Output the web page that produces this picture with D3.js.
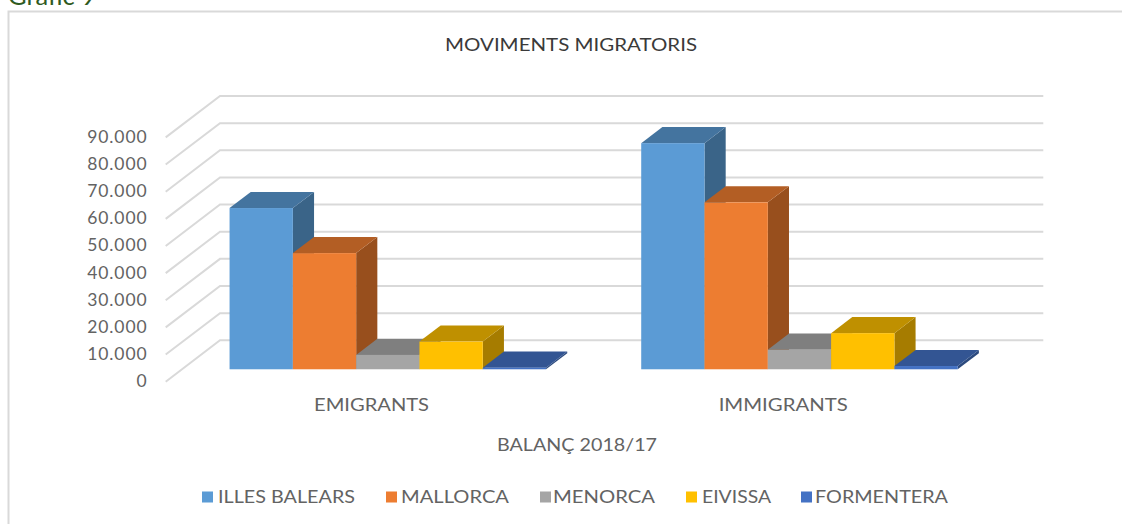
<!DOCTYPE html>
<html>
<head>
<meta charset="utf-8">
<script src="https://cdn.jsdelivr.net/npm/d3@7"></script>
<style>
html,body{margin:0;padding:0;background:#fff;overflow:hidden}
text{font-family:Lato,"Open Sans",sans-serif;fill:#636363}
</style>
</head>
<body>
<svg id="c" width="1122" height="524"></svg>
<script>
const categories = ["EMIGRANTS", "IMMIGRANTS"];
const categoryWidths = [115, 129];
const seriesNames = ["ILLES BALEARS", "MALLORCA", "MENORCA", "EIVISSA", "FORMENTERA"];
const emigrants = [59400, 42800, 5300, 10200, 600];
const immigrants = [83300, 61500, 7200, 13300, 1200];
const tickValues = [0, 10000, 20000, 30000, 40000, 50000, 60000, 70000, 80000, 90000];
const tickLabels = ["0", "10.000", "20.000", "30.000", "40.000", "50.000", "60.000", "70.000", "80.000", "90.000"];
const frontColors = ["#5b9bd5", "#ed7d31", "#a5a5a5", "#ffc000", "#4472c4"];
const topColors = ["#44749f", "#b35e24", "#7f7f7f", "#bf9000", "#335593"];
const sideColors = ["#3a6488", "#984f1d", "#6e6e6e", "#a67c00", "#2c4a7e"];
const legendMarkX = [202, 386, 540, 686, 801];
const legendTextX = [218, 401, 553, 702, 815];
const legendWidths = [137, 108, 102, 69, 133];
const values = [emigrants, immigrants];

const svg = d3.select("#c");

// frame
svg.append("path").attr("d", "M8.5,530V11.5H1130").attr("fill", "none").attr("stroke", "#d9d9d9").attr("stroke-width", 2);
svg.append("text").attr("x", 8).attr("y", 4.5).attr("font-size", 25.5).style("fill", "#2f5a1e").text("Gràfic 9");

// plot geometry: front plane plus a depth offset
const plotLeft = 165.7, plotRight = 989, zeroFront = 381.7, topFront = 137.4;
const depthX = 54.3, depthY = 41.4;
const y = d3.scaleLinear().domain([0, 90000]).range([zeroFront, topFront]);
const x = d3.scaleBand().domain(categories).range([plotLeft, plotRight]);
const s = d3.scaleBand().domain(seriesNames).range([0, 316.5]);
const depth = d3.scaleLinear().domain([0, 1]).range([0, 1]);
const ox = d => depth(d) * depthX, oy = d => depth(d) * depthY;

// gridlines with the side wall
const grid = svg.append("g").attr("fill", "none").attr("stroke", "#d9d9d9").attr("stroke-width", 2);
tickValues.forEach(t => {
  const yy = y(t);
  grid.append("path").attr("d", `M${plotLeft},${yy}L${plotLeft + depthX},${yy - depthY}H${plotRight + depthX}`);
});

// tick labels
svg.append("g").selectAll("text").data(tickValues).join("text")
  .attr("x", 147.5).attr("y", d => y(d) + 5.5).attr("text-anchor", "end")
  .attr("font-size", 17.5).style("letter-spacing", "0.9px")
  .text((d, i) => tickLabels[i]);

// bars: front plane at depth 0.3, back at depth 0.69
const d0 = 0.3, d1 = 0.69;
categories.forEach((cat, ci) => {
  const g = svg.append("g");
  const bx = x(cat) + (x.bandwidth() - 316.5) / 2;
  seriesNames.forEach((name, si) => {
    const v = values[ci][si];
    const xl = bx + s(name) + ox(d0), xr = xl + s.bandwidth();
    const yt = y(v) - oy(d0), yb = y(0) - oy(d0);
    const dx = ox(d1 - d0), dy = oy(d1 - d0);
    g.append("path").attr("fill", sideColors[si])
      .attr("d", `M${xr},${yt}L${xr + dx},${yt - dy}V${yb - dy}L${xr},${yb}Z`);
    g.append("path").attr("fill", topColors[si])
      .attr("d", `M${xl},${yt}L${xl + dx},${yt - dy}H${xr + dx}L${xr},${yt}Z`);
    g.append("rect").attr("fill", frontColors[si])
      .attr("x", xl).attr("y", yt).attr("width", s.bandwidth()).attr("height", yb - yt);
  });
  svg.append("text").attr("x", x(cat) + x.bandwidth() / 2).attr("y", 411)
    .attr("text-anchor", "middle").attr("font-size", 18)
    .attr("textLength", categoryWidths[ci]).attr("lengthAdjust", "spacingAndGlyphs").text(cat);
});

// titles
svg.append("text").attr("x", 571).attr("y", 50.5).attr("text-anchor", "middle")
  .attr("font-size", 18).attr("textLength", 252).attr("lengthAdjust", "spacingAndGlyphs")
  .style("fill", "#3a3a3a").text("MOVIMENTS MIGRATORIS");
svg.append("text").attr("x", 577).attr("y", 451).attr("text-anchor", "middle")
  .attr("font-size", 18).attr("textLength", 160).attr("lengthAdjust", "spacingAndGlyphs").text("BALANÇ 2018/17");

// legend
const lg = svg.append("g");
seriesNames.forEach((name, i) => {
  lg.append("rect").attr("x", legendMarkX[i]).attr("y", 491.5).attr("width", 11).attr("height", 11).attr("fill", frontColors[i]);
  lg.append("text").attr("x", legendTextX[i]).attr("y", 503).attr("font-size", 18)
    .attr("textLength", legendWidths[i]).attr("lengthAdjust", "spacingAndGlyphs").text(name);
});
</script>
</body>
</html>
